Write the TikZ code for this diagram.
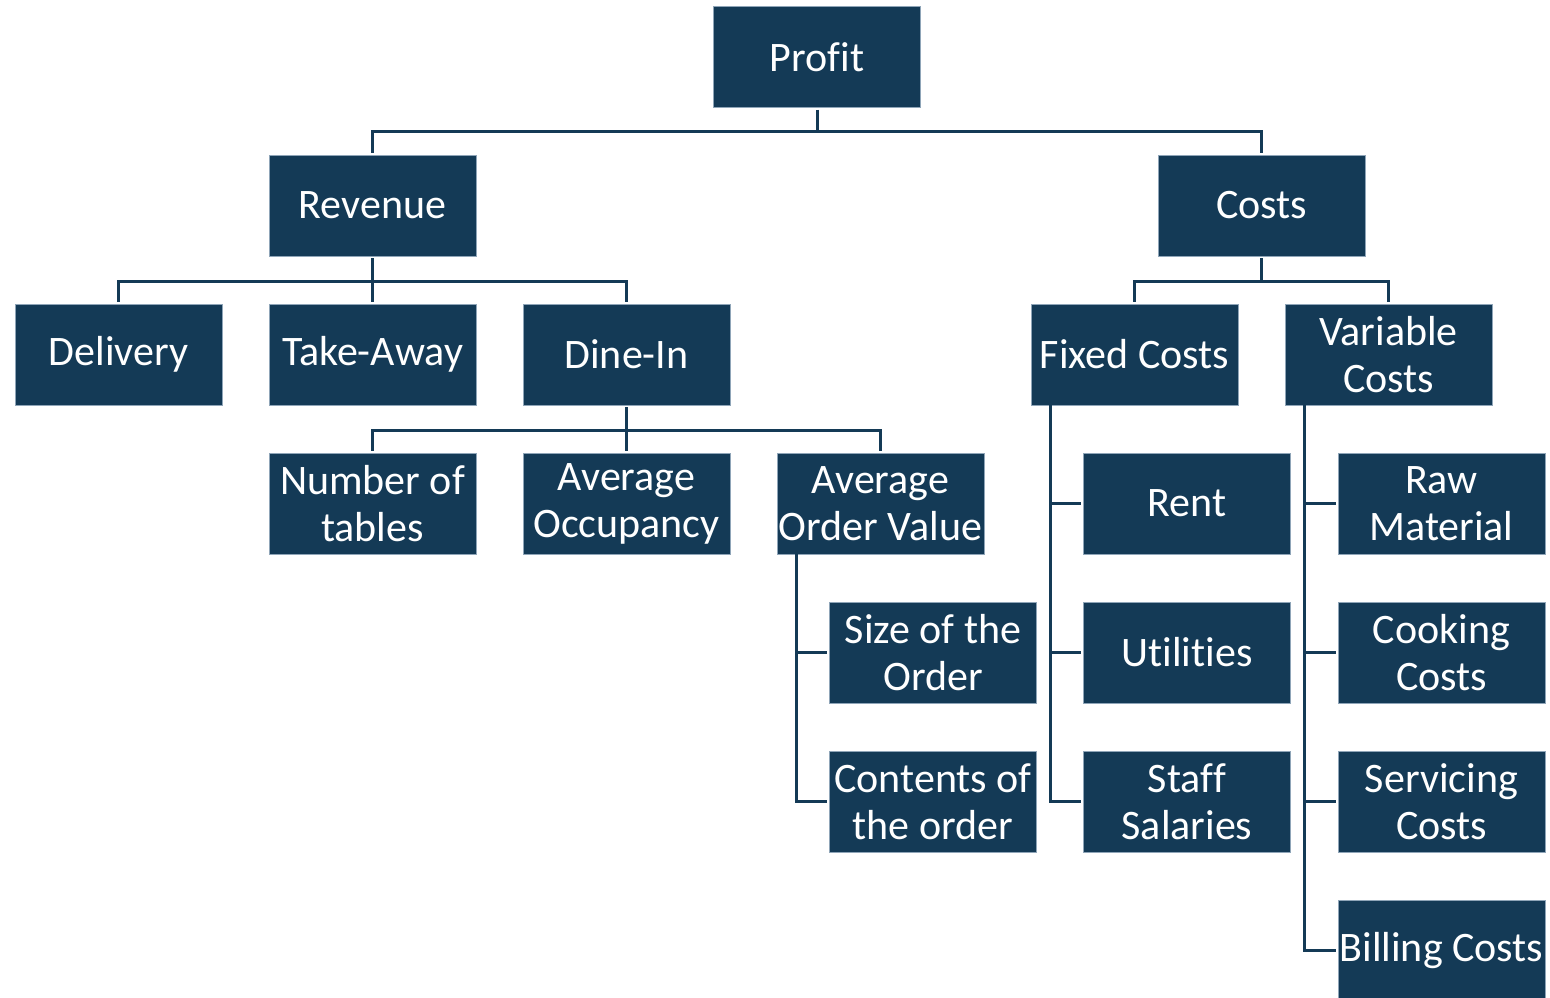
\documentclass[tikz,border=0pt]{standalone}
\usepackage{fontspec}
\setmainfont{Carlito}[Ligatures={NoCommon,NoRare}]
\definecolor{navy}{HTML}{143A56}
\definecolor{edge}{HTML}{8FA5B8}
\begin{document}
\begin{tikzpicture}[x=1pt,y=-1pt,
  box/.style={fill=navy,draw=edge,line width=0.8pt,minimum width=207pt,minimum height=101pt,
    inner sep=0pt,align=center,text=white,font=\fontsize{42}{47}\selectfont},
  conn/.style={draw=navy,line width=3pt}]
\useasboundingbox (0,0) rectangle (1550,998);
\node[box] (profit) at (817,57) {Prof\kern0pt it};
\node[box] (revenue) at (372.5,205.5) {Revenue};
\node[box] (costs) at (1261.5,205.5) {Costs};
\node[box] (delivery) at (118.5,354.5) {Delivery};
\node[box] (takeaway) at (372.5,354.5) {Take-Away};
\node[box] (dinein) at (626.5,354.5) {Dine-In};
\node[box] (fixed) at (1134.5,354.5) {Fixed Costs};
\node[box] (variable) at (1388.5,354.5) {Variable\\Costs};
\node[box] (tables) at (372.5,503.5) {Number of\\tables};
\node[box] (occupancy) at (626.5,503.5) {Average\\Occupancy};
\node[box] (aov) at (880.5,503.5) {Average\\Order Value};
\node[box] (size) at (933,652.5) {Size of the\\Order};
\node[box] (contents) at (933,801.5) {Contents of\\the order};
\node[box] (rent) at (1187,503.5) {Rent};
\node[box] (utilities) at (1187,652.5) {Utilit\kern0pt ies};
\node[box] (staff) at (1187,801.5) {Staf\kern0pt f\\Salaries};
\node[box] (raw) at (1441.5,503.5) {Raw\\Material};
\node[box] (cooking) at (1441.5,652.5) {Cooking\\Costs};
\node[box] (servicing) at (1441.5,801.5) {Servicing\\Costs};
\node[box] (billing) at (1441.5,950.5) {Billing Costs};
% tree connectors
\draw[conn,shorten <=2pt,shorten >=2pt] (profit.south) -- ++(0,24) -| (revenue.north);
\draw[conn,shorten <=2pt,shorten >=2pt] (profit.south) -- ++(0,24) -| (costs.north);
\draw[conn,shorten <=2pt,shorten >=2pt] (revenue.south) -- ++(0,25) -| (delivery.north);
\draw[conn,shorten <=2pt,shorten >=2pt] (revenue.south) -- (takeaway.north);
\draw[conn,shorten <=2pt,shorten >=2pt] (revenue.south) -- ++(0,25) -| (dinein.north);
\draw[conn,shorten <=2pt,shorten >=2pt] (costs.south) -- ++(0,25) -| (fixed.north);
\draw[conn,shorten <=2pt,shorten >=2pt] (costs.south) -- ++(0,25) -| (variable.north);
\draw[conn,shorten <=2pt,shorten >=2pt] (dinein.south) -- ++(0,25) -| (tables.north);
\draw[conn,shorten <=2pt,shorten >=2pt] (dinein.south) -- (occupancy.north);
\draw[conn,shorten <=2pt,shorten >=2pt] (dinein.south) -- ++(0,25) -| (aov.north);
% side connectors
\foreach \c in {size,contents}
  \draw[conn,shorten >=2pt] ([xshift=20pt,yshift=3pt]aov.south west) |- (\c.west);
\foreach \c in {rent,utilities,staff}
  \draw[conn,shorten >=2pt] ([xshift=20pt,yshift=3pt]fixed.south west) |- (\c.west);
\foreach \c in {raw,cooking,servicing,billing}
  \draw[conn,shorten >=2pt] ([xshift=20pt,yshift=3pt]variable.south west) |- (\c.west);
\end{tikzpicture}
\end{document}
